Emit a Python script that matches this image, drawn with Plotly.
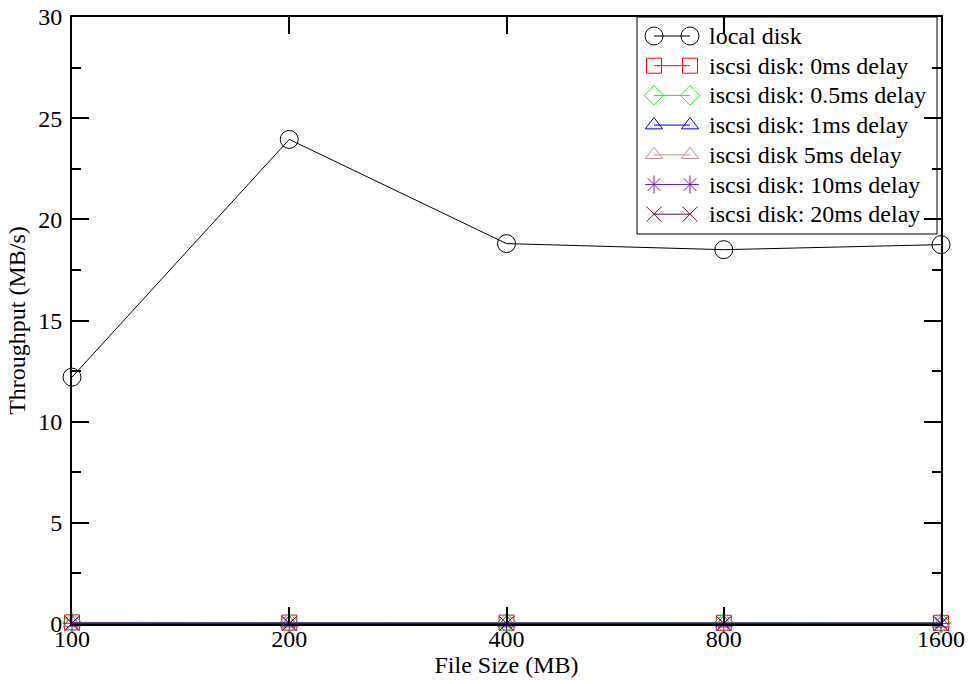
import plotly.graph_objects as go

# File sizes tested (MB) and measured throughput (MB/s)
file_sizes = [100, 200, 400, 800, 1600]
local_disk = [12.2, 23.95, 18.8, 18.5, 18.75]
iscsi_0ms = [0.08, 0.07, 0.07, 0.06, 0.06]
iscsi_05ms = [0.07, 0.06, 0.06, 0.05, 0.05]
iscsi_1ms = [0.06, 0.05, 0.05, 0.05, 0.04]
iscsi_5ms = [0.05, 0.04, 0.04, 0.04, 0.03]
iscsi_10ms = [0.04, 0.03, 0.03, 0.03, 0.03]
iscsi_20ms = [0.03, 0.02, 0.02, 0.02, 0.02]

series = [
    ("local disk", local_disk, "#000000", "circle-open", 18),
    ("iscsi disk: 0ms delay", iscsi_0ms, "#ff0000", "square-open", 15),
    ("iscsi disk: 0.5ms delay", iscsi_05ms, "#00ff00", "diamond-open", 15),
    ("iscsi disk: 1ms delay", iscsi_1ms, "#0000ff", "triangle-up-open", 15),
    ("iscsi disk 5ms delay", iscsi_5ms, "#bc8f8f", "triangle-up-open", 15),
    ("iscsi disk: 10ms delay", iscsi_10ms, "#7221bc", "asterisk-open", 15),
    ("iscsi disk: 20ms delay", iscsi_20ms, "#670748", "x-thin-open", 15),
]

FONT = "Liberation Serif, Times New Roman, serif"
W, H = 970, 684
ML, MR, MT, MB = 72, 29, 17, 60

fig = go.Figure()
for name, vals, color, symbol, size in series:
    fig.add_trace(go.Scatter(
        x=file_sizes, y=vals, name=name, mode="lines+markers",
        line=dict(color=color, width=1),
        marker=dict(symbol=symbol, size=size, color=color,
                    line=dict(color=color, width=1)),
        cliponaxis=False, showlegend=False,
    ))

# Key box drawn on a hidden overlay axis measured in page pixels,
# with a "marker-line-marker" swatch for every series
KEY_LEFT, KEY_RIGHT, KEY_TOP, KEY_BOTTOM = 637, 937, 17, 234
ROW0, ROW_STEP = 36, 29.7
SW_A, SW_B, TEXT_X = 654, 690, 707

fig.add_shape(type="rect", xref="x2", yref="y2",
              x0=KEY_LEFT, x1=KEY_RIGHT, y0=KEY_TOP, y1=KEY_BOTTOM,
              line=dict(color="black", width=1), fillcolor="white", layer="below")
for i, (name, vals, color, symbol, size) in enumerate(series):
    yc = ROW0 + ROW_STEP * i
    fig.add_trace(go.Scatter(
        x=[SW_A, SW_B], y=[yc, yc], xaxis="x2", yaxis="y2",
        mode="lines+markers", line=dict(color=color, width=1),
        marker=dict(symbol=symbol, size=size, color=color,
                    line=dict(color=color, width=1)),
        cliponaxis=False, showlegend=False, hoverinfo="skip",
    ))
    fig.add_annotation(x=TEXT_X, y=yc, xref="x2", yref="y2", text=name,
                       showarrow=False, xanchor="left", yanchor="middle",
                       font=dict(family=FONT, size=24, color="black"))

axis_common = dict(
    showline=True, linecolor="black", linewidth=2, mirror="ticks",
    ticks="inside", ticklen=17, tickwidth=2, tickcolor="black",
    showgrid=False, zeroline=False, automargin=False,
    tickfont=dict(family=FONT, size=24, color="black"),
)

fig.update_layout(
    xaxis=dict(
        type="log", range=[2, 3.2041200], tickvals=file_sizes,
        ticktext=[str(v) for v in file_sizes], ticklabelstandoff=-8,
        title=dict(text="File Size (MB)", font=dict(family=FONT, size=24, color="black"),
                   standoff=0),
        **axis_common,
    ),
    yaxis=dict(
        range=[0, 30], tickvals=[0, 5, 10, 15, 20, 25, 30], ticklabelstandoff=3,
        minor=dict(ticks="inside", ticklen=9, tickwidth=2, tickcolor="black", dtick=2.5,
                   showgrid=False),
        title=dict(text="Throughput (MB/s)", font=dict(family=FONT, size=24, color="black"),
                   standoff=6),
        **axis_common,
    ),
    xaxis2=dict(overlaying="x", anchor="y2", range=[ML, W - MR], visible=False,
                fixedrange=True),
    yaxis2=dict(overlaying="y", anchor="x2", range=[H - MB, MT], visible=False,
                fixedrange=True),
    width=W, height=H,
    margin=dict(l=ML, r=MR, t=MT, b=MB),
    paper_bgcolor="white", plot_bgcolor="white",
    font=dict(family=FONT, size=24, color="black"),
    showlegend=False,
)

fig.write_html("out.html")
